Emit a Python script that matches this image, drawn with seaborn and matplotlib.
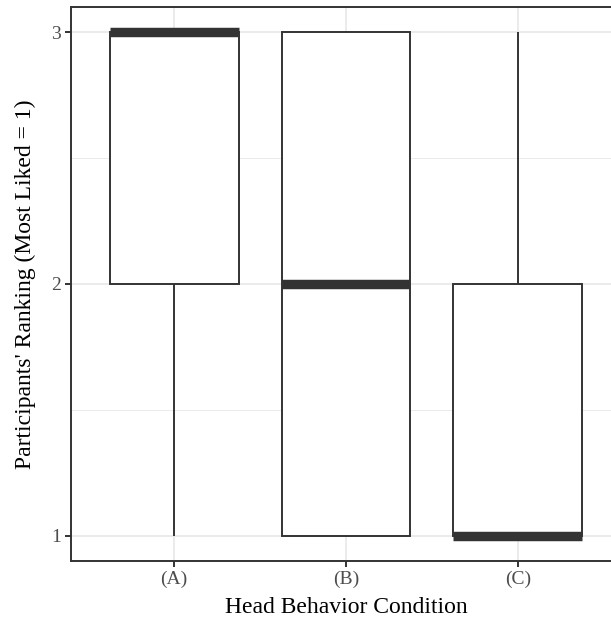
"""
Boxplot of participants' rankings per head behavior condition.
"""

import pandas as pd
import numpy as np
import matplotlib
matplotlib.use('Agg')
import matplotlib.pyplot as plt
import seaborn as sns
from matplotlib.ticker import MultipleLocator

# Rankings given by each participant (1 = most liked)
conditions = ['(A)', '(B)', '(C)']
ranks_a = [1, 2, 2, 2, 3, 3, 3, 3, 3]
ranks_b = [1, 1, 1, 2, 2, 2, 3, 3, 3]
ranks_c = [1, 1, 1, 1, 1, 2, 2, 2, 3]

y_ticks = [1, 2, 3]
x_label = 'Head Behavior Condition'
y_label = "Participants' Ranking (Most Liked = 1)"

df = pd.DataFrame({
    'condition': [conditions[0]] * len(ranks_a) + [conditions[1]] * len(ranks_b)
                 + [conditions[2]] * len(ranks_c),
    'rank': ranks_a + ranks_b + ranks_c,
})

sns.set_style('white')
plt.rcParams['font.family'] = ['Liberation Serif', 'DejaVu Serif']

dark = '#333333'
lw = 1.4
fig = plt.figure(figsize=(6.11, 6.19), dpi=100)
ax = fig.add_axes([71 / 611, 58 / 619, 550 / 611, 554 / 619])

sns.boxplot(
    data=df, x='condition', y='rank', order=conditions, ax=ax,
    color='white', linecolor=dark, linewidth=lw, width=0.75,
    showcaps=False, whis=1.5,
    medianprops=dict(color=dark, linewidth=6.8, solid_capstyle='butt'),
    whiskerprops=dict(color=dark, linewidth=lw),
    boxprops=dict(edgecolor=dark, facecolor='white', linewidth=lw),
    flierprops=dict(marker='o', markerfacecolor=dark, markeredgecolor=dark),
)

ax.set_xlim(-0.6, 2.6)
ax.set_ylim(0.9, 3.1)
ax.set_yticks(y_ticks)
ax.yaxis.set_minor_locator(MultipleLocator(0.5))

# ggplot theme_bw style grid
ax.set_axisbelow(True)
ax.grid(which='major', color='#EBEBEB', linewidth=1.4)
ax.grid(which='minor', axis='y', color='#EBEBEB', linewidth=0.7)
ax.tick_params(which='minor', length=0)
ax.tick_params(which='major', length=4.3, width=lw, color=dark,
               labelsize=14, labelcolor='#4D4D4D', pad=3, left=True, bottom=True)
for spine in ax.spines.values():
    spine.set_visible(True)
    spine.set_color(dark)
    spine.set_linewidth(lw)

ax.set_xlabel(x_label, fontsize=17, color='black', labelpad=6)
ax.set_ylabel(y_label, fontsize=17, color='black', labelpad=10.5)

plt.savefig('out.png', dpi=100)
plt.close()
